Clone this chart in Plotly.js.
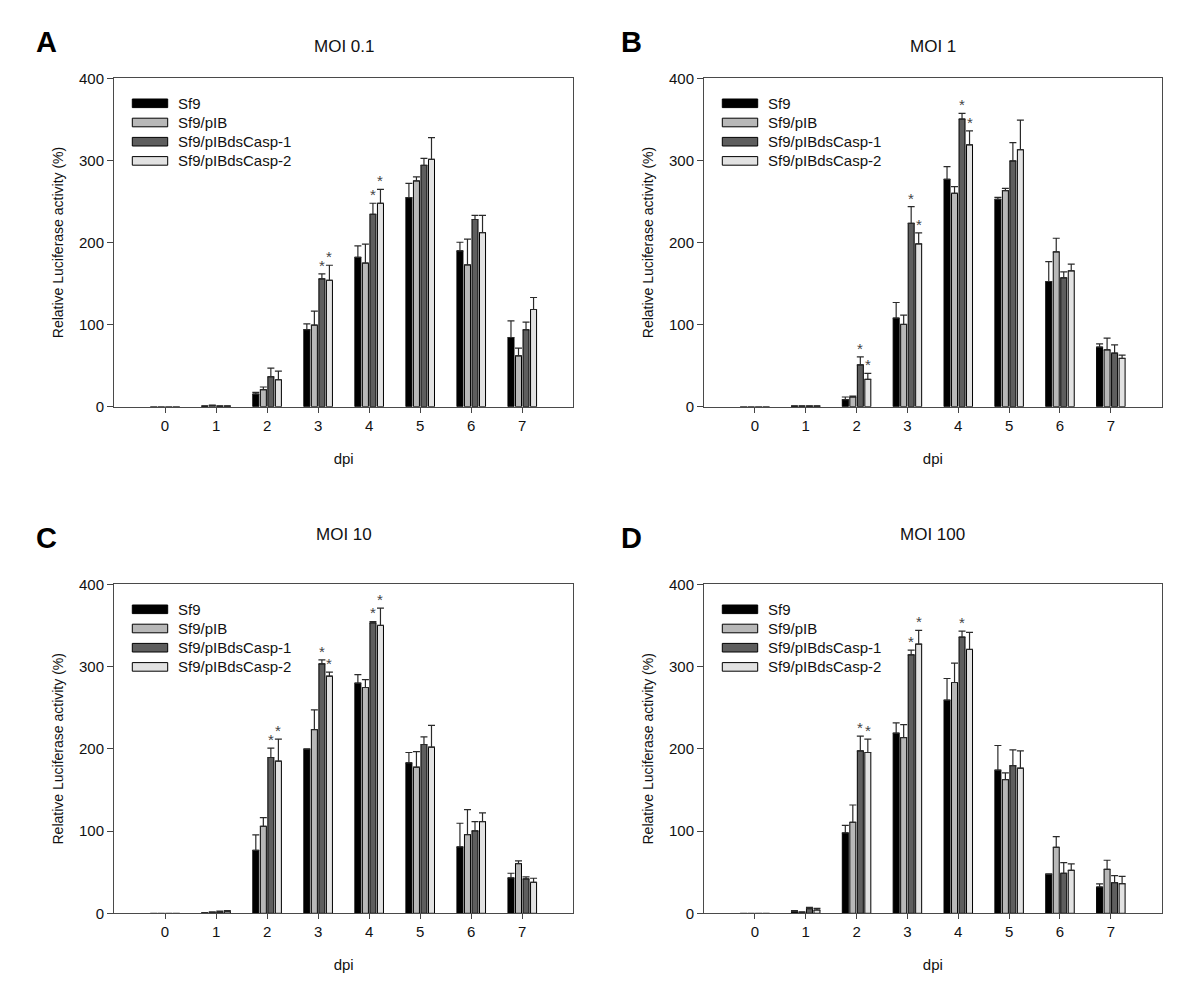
<!DOCTYPE html>
<html>
<head>
<meta charset="utf-8">
<script src="https://cdn.plot.ly/plotly-3.0.1.min.js"></script>
<style>html,body{margin:0;padding:0;background:#fff;}#chart{width:1200px;height:986px;}</style>
</head>
<body>
<div id="chart"></div>
<script>
// ---- data ----
const days = [0, 1, 2, 3, 4, 5, 6, 7];
const dayLabels = ['0', '1', '2', '3', '4', '5', '6', '7'];
const seriesNames = ['Sf9', 'Sf9/pIB', 'Sf9/pIBdsCasp-1', 'Sf9/pIBdsCasp-2'];
const seriesColors = ['#000000', '#b8b8b8', '#5e5e5e', '#e2e2e2'];
const yTicks = [0, 100, 200, 300, 400];

// Panel A: MOI 0.1
const moi01_sf9      = [0, 0.8, 15.4, 94.0, 182.0, 254.7, 189.8, 84.3];
const moi01_sf9_err  = [0, 0.3, 2.0, 7.0, 14.0, 17.4, 10.5, 20.3];
const moi01_pib      = [0, 1.5, 20.7, 99.4, 175.0, 275.0, 172.7, 62.0];
const moi01_pib_err  = [0, 0.6, 3.3, 17.0, 23.0, 5.0, 31.3, 9.4];
const moi01_c1       = [0, 0.8, 36.5, 155.7, 234.4, 294.0, 228.0, 93.7];
const moi01_c1_err   = [0, 0.3, 10.5, 6.1, 13.4, 8.5, 5.0, 9.3];
const moi01_c2       = [0, 0.8, 32.8, 154.0, 247.8, 301.3, 212.0, 118.4];
const moi01_c2_err   = [0, 0.3, 10.6, 18.3, 17.0, 26.4, 21.0, 14.6];
const moi01_sig_c1   = [3, 4];
const moi01_sig_c2   = [3, 4];

// Panel B: MOI 1
const moi1_sf9       = [0, 0.8, 8.5, 107.9, 277.0, 252.6, 152.5, 72.6];
const moi1_sf9_err   = [0, 0.3, 3.3, 19.0, 15.4, 2.4, 24.3, 4.0];
const moi1_pib       = [0, 0.8, 11.8, 100.2, 260.0, 263.2, 188.6, 69.3];
const moi1_pib_err   = [0, 0.3, 1.2, 11.3, 8.0, 2.8, 16.6, 14.2];
const moi1_c1        = [0, 0.8, 51.0, 223.4, 350.4, 299.3, 157.0, 65.3];
const moi1_c1_err    = [0, 0.3, 9.7, 20.3, 6.9, 22.3, 7.3, 10.1];
const moi1_c2        = [0, 0.8, 33.3, 198.3, 319.0, 313.0, 165.5, 58.8];
const moi1_c2_err    = [0, 0.3, 7.3, 13.4, 17.0, 36.0, 8.1, 4.1];
const moi1_sig_c1    = [2, 3, 4];
const moi1_sig_c2    = [2, 3, 4];

// Panel C: MOI 10
const moi10_sf9      = [0, 0.6, 76.6, 199.5, 279.8, 182.9, 80.7, 43.0];
const moi10_sf9_err  = [0, 0.4, 18.7, 0.5, 10.5, 12.6, 28.8, 5.7];
const moi10_pib      = [0, 1.0, 105.8, 223.4, 274.5, 177.6, 95.7, 60.4];
const moi10_pib_err  = [0, 0.8, 10.5, 24.0, 9.7, 19.0, 30.4, 3.3];
const moi10_c1       = [0, 1.5, 189.4, 303.3, 353.2, 205.2, 100.2, 41.8];
const moi10_c1_err   = [0, 1.2, 11.4, 4.9, 1.6, 9.3, 11.3, 2.4];
const moi10_c2       = [0, 2.0, 185.0, 288.3, 350.0, 202.0, 111.5, 37.7];
const moi10_c2_err   = [0, 1.2, 26.8, 4.9, 21.0, 26.4, 10.5, 4.9];
const moi10_sig_c1   = [2, 3, 4];
const moi10_sig_c2   = [2, 3, 4];

// Panel D: MOI 100
const moi100_sf9     = [0, 2.0, 97.7, 219.0, 259.1, 174.0, 47.4, 32.0];
const moi100_sf9_err = [0, 1.2, 9.3, 12.6, 26.4, 30.0, 0.5, 3.7];
const moi100_pib     = [0, 1.2, 110.7, 213.7, 280.6, 162.6, 80.3, 53.5];
const moi100_pib_err = [0, 0.5, 21.0, 15.8, 23.5, 8.1, 13.0, 11.0];
const moi100_c1      = [0, 5.7, 197.5, 314.3, 335.8, 179.6, 48.7, 37.3];
const moi100_c1_err  = [0, 1.6, 17.8, 5.7, 7.3, 19.0, 13.0, 8.5];
const moi100_c2      = [0, 4.0, 195.5, 327.3, 320.8, 176.4, 52.3, 36.0];
const moi100_c2_err  = [0, 2.0, 16.2, 16.6, 20.7, 21.0, 7.7, 9.0];
const moi100_sig_c1  = [2, 3, 4];
const moi100_sig_c2  = [2, 3];

// ---- layout constants ----
const W = 1200, H = 986;
const FONT = 'Liberation Sans, Arial, sans-serif';
const BARGAP = 0.41, BARGROUPGAP = 0.2;
const px = v => v / W;
const py = v => 1 - v / H;

const panels = [
  { letter: 'A', title: 'MOI 0.1',
    vals: [moi01_sf9, moi01_pib, moi01_c1, moi01_c2],
    errs: [moi01_sf9_err, moi01_pib_err, moi01_c1_err, moi01_c2_err],
    sig: [[], [], moi01_sig_c1, moi01_sig_c2],
    x0: 114, x1: 573.3, y0: 78.3, y1: 406.7, titleY: 46, letterX: 46, letterY: 42 },
  { letter: 'B', title: 'MOI 1',
    vals: [moi1_sf9, moi1_pib, moi1_c1, moi1_c2],
    errs: [moi1_sf9_err, moi1_pib_err, moi1_c1_err, moi1_c2_err],
    sig: [[], [], moi1_sig_c1, moi1_sig_c2],
    x0: 704, x1: 1161.7, y0: 78.3, y1: 406.7, titleY: 46, letterX: 632, letterY: 42 },
  { letter: 'C', title: 'MOI 10',
    vals: [moi10_sf9, moi10_pib, moi10_c1, moi10_c2],
    errs: [moi10_sf9_err, moi10_pib_err, moi10_c1_err, moi10_c2_err],
    sig: [[], [], moi10_sig_c1, moi10_sig_c2],
    x0: 114, x1: 573.3, y0: 584.3, y1: 913.3, titleY: 534, letterX: 46, letterY: 538 },
  { letter: 'D', title: 'MOI 100',
    vals: [moi100_sf9, moi100_pib, moi100_c1, moi100_c2],
    errs: [moi100_sf9_err, moi100_pib_err, moi100_c1_err, moi100_c2_err],
    sig: [[], [], moi100_sig_c1, moi100_sig_c2],
    x0: 704, x1: 1161.7, y0: 584.3, y1: 913.3, titleY: 534, letterX: 632, letterY: 538 }
];

const traces = [];
const annotations = [];
const shapes = [];
const layout = {
  width: W, height: H,
  margin: { l: 0, r: 0, t: 0, b: 0 },
  paper_bgcolor: '#ffffff', plot_bgcolor: '#ffffff',
  font: { family: FONT, color: '#111' },
  barmode: 'group', bargap: BARGAP, bargroupgap: BARGROUPGAP,
  showlegend: false
};

const slot = (1 - BARGAP) / seriesNames.length;

panels.forEach((p, i) => {
  const n = i === 0 ? '' : String(i + 1);
  const xa = 'x' + n, ya = 'y' + n;

  p.vals.forEach((vals, s) => {
    const errs = p.errs[s];
    traces.push({
      type: 'bar', x: days, y: vals, xaxis: xa, yaxis: ya,
      name: seriesNames[s], showlegend: false,
      marker: { color: seriesColors[s],
                opacity: vals.map(v => (v > 0 ? 1 : 0)),
                line: { color: '#000', width: vals.map(v => (v > 0 ? 1 : 0)) } },
      error_y: { type: 'data', symmetric: false,
                 array: errs.map((e, k) => (vals[k] > 0 ? e : null)),
                 arrayminus: vals.map(v => (v > 0 ? 0 : null)),
                 color: '#2a2a2a', thickness: 1.2, width: 3.5 },
      hoverinfo: 'x+y+name'
    });
    // significance markers
    p.sig[s].forEach(d => {
      const k = days.indexOf(d);
      annotations.push({
        xref: xa, yref: ya, x: d + (s - 1.5) * slot, y: vals[k] + errs[k],
        text: '*', showarrow: false, xanchor: 'center', yanchor: 'bottom', yshift: -2,
        font: { family: FONT, size: 15, color: '#444' }
      });
    });
  });

  layout['xaxis' + n] = {
    domain: [px(p.x0), px(p.x1)], anchor: ya, range: [-1, 8],
    tickmode: 'array', tickvals: days, ticktext: dayLabels,
    ticks: 'outside', ticklen: 5, tickwidth: 1, tickcolor: '#444',
    showline: true, mirror: true, linecolor: '#4a4a4a', linewidth: 1,
    showgrid: false, zeroline: false,
    tickfont: { family: FONT, size: 15, color: '#111' },
    title: { text: 'dpi', font: { family: FONT, size: 15, color: '#111' }, standoff: 20 },
    fixedrange: true
  };
  layout['yaxis' + n] = {
    domain: [py(p.y1), py(p.y0)], anchor: xa, range: [0, 400],
    tickmode: 'array', tickvals: yTicks,
    ticks: 'outside', ticklen: 6, tickwidth: 1, tickcolor: '#444',
    showline: true, mirror: true, linecolor: '#4a4a4a', linewidth: 1,
    showgrid: false, zeroline: false,
    tickfont: { family: FONT, size: 15, color: '#111' },
    title: { text: 'Relative Luciferase activity (%)', font: { family: FONT, size: 14, color: '#111' }, standoff: 12 },
    fixedrange: true
  };

  // panel title and letter
  annotations.push({
    xref: 'paper', yref: 'paper', x: px((p.x0 + p.x1) / 2), y: py(p.titleY),
    text: p.title, showarrow: false, xanchor: 'center', yanchor: 'middle',
    font: { family: FONT, size: 17, color: '#111' }
  });
  annotations.push({
    xref: 'paper', yref: 'paper', x: px(p.letterX), y: py(p.letterY),
    text: '<b>' + p.letter + '</b>', showarrow: false, xanchor: 'center', yanchor: 'middle',
    font: { family: FONT, size: 29, color: '#000' }
  });

  // legend (inside top-left of each panel)
  const hgt = p.y1 - p.y0, wid = p.x1 - p.x0;
  seriesNames.forEach((nm, s) => {
    const cy = 25 + s * 19.2; // px from top of plot
    shapes.push({
      type: 'rect', xref: xa + ' domain', yref: ya + ' domain',
      x0: 18.3 / wid, x1: 53.7 / wid,
      y0: 1 - (cy + 4.3) / hgt, y1: 1 - (cy - 4.3) / hgt,
      fillcolor: seriesColors[s], line: { color: '#000', width: 1 }
    });
    annotations.push({
      xref: xa + ' domain', yref: ya + ' domain', x: 62 / wid, y: 1 - cy / hgt,
      text: nm, showarrow: false, xanchor: 'left', yanchor: 'middle',
      font: { family: FONT, size: 15, color: '#111' }
    });
  });
});

layout.annotations = annotations;
layout.shapes = shapes;

Plotly.newPlot('chart', traces, layout, { displayModeBar: false, staticPlot: true });
</script>
</body>
</html>
